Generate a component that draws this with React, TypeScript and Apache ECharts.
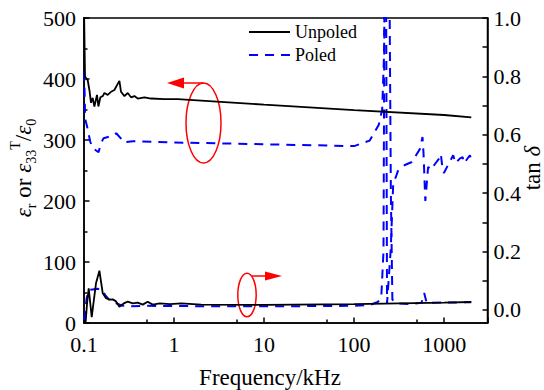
import React, { useEffect, useRef } from 'react';
import * as echarts from 'echarts';

// ---------- data (frequency in kHz) ----------
const unpoledEpsFreq = [0.1, 0.1026, 0.1099, 0.1148, 0.1196, 0.1249, 0.1305, 0.1394, 0.1445, 0.1521, 0.1614, 0.1686, 0.1834, 0.1995, 0.2177, 0.2326, 0.2473, 0.2577, 0.2811, 0.3059, 0.3329, 0.3631, 0.3952, 0.469, 0.555, 0.782, 1.1, 10, 100, 1000, 2000];
const unpoledEps = [520, 404, 398, 382, 361, 369, 355, 374, 355, 370, 372, 377, 374, 379, 382, 390, 397, 379, 372, 377, 370, 372, 368, 370, 368, 367, 367, 358, 349, 341, 337];

const poledEpsFreq = [0.1, 0.1015, 0.103, 0.109, 0.117, 0.124, 0.145, 0.155, 0.165, 0.21, 0.228, 0.255, 0.275, 0.35, 1, 10, 100, 149, 188, 205, 215, 221, 226, 232, 255, 272, 290, 306, 366, 438, 537, 575, 590, 600, 612, 618, 664, 706, 873, 919, 950, 993, 1259, 1339, 1500, 1601, 1668, 1931, 2015];
const poledEps = [412, 380, 335, 320, 298, 287, 280, 295, 303, 307, 311, 303, 296, 298, 296, 293, 290, 299, 325, 350, 440, 620, 620, 32, 120, 230, 239, 249, 259, 264, 285, 305, 278, 250, 215, 200, 256, 251, 269, 277, 258, 246, 275, 262, 270, 272, 262, 275, 267];

const unpoledTanFreq = [0.1, 0.1044, 0.108, 0.1128, 0.1218, 0.1359, 0.1483, 0.1614, 0.1756, 0.193, 0.2084, 0.225, 0.247, 0.276, 0.306, 0.348, 0.395, 0.449, 0.51, 0.58, 0.694, 0.896, 1.2, 2, 10, 100, 1000, 2000];
const unpoledTan = [-0.04, -0.04, 0.02, 0.074, -0.025, 0.091, 0.134, 0.057, 0.04, 0.035, 0.036, 0.03, 0.011, 0.022, 0.028, 0.022, 0.025, 0.018, 0.028, 0.018, 0.022, 0.02, 0.022, 0.018, 0.017, 0.02, 0.025, 0.027];

const poledTanFreq = [0.1, 0.103, 0.107, 0.113, 0.125, 0.14, 0.16, 0.172, 0.19, 0.22, 0.26, 0.32, 0.5, 1, 10, 100, 150, 183, 200, 212, 218, 246, 256, 266, 300, 400, 560, 600, 640, 1000, 2000];
const poledTan = [-0.035, -0.01, 0.04, 0.068, 0.07, 0.072, 0.07, 0.05, 0.035, 0.025, 0.015, 0.012, 0.014, 0.013, 0.012, 0.014, 0.017, 0.027, 0.04, 0.2, 1.2, 1.2, 0.4, 0.035, 0.022, 0.02, 0.024, 0.058, 0.024, 0.025, 0.026];

const seriesNames = ['Unpoled', 'Poled'];
const xMinorTicks = [0.5, 5, 50, 500];
const rightTickValues = [0, 0.1, 0.2, 0.3, 0.4, 0.5, 0.6, 0.7, 0.8, 0.9, 1.0];
const rightLabelValues = [0, 0.2, 0.4, 0.6, 0.8, 1.0];

const F = 'serif';
const zip = (xs: number[], ys: number[]) => xs.map((x, i) => [x, ys[i]]);

export default function App() {
  const ref = useRef<HTMLDivElement>(null);
  useEffect(() => {
    const chart = echarts.init(ref.current!, null, { renderer: 'svg' });
    const black = '#000000';
    const blue = '#0000ff';
    const red = '#ff0000';
    const tickStyle = { color: black, width: 1.5 };
    const labRich = { a: { fontFamily: F, fontSize: 22, color: black, fill: black } };
    const option: any = {
      animation: false,
      backgroundColor: '#ffffff',
      textStyle: { fontFamily: F },
      grid: { left: 84, right: 56.5, top: 18, bottom: 67, show: true, borderColor: black, borderWidth: 1.5, backgroundColor: 'transparent' },
      legend: {
        data: seriesNames,
        orient: 'vertical',
        left: 243,
        top: 18,
        itemWidth: 41,
        itemHeight: 14,
        itemGap: 5,
        itemStyle: { opacity: 0 },
        textStyle: { fontFamily: F, fontSize: 18, color: black },
      },
      xAxis: [
        {
          type: 'log', logBase: 10, min: 0.1, max: 3030, position: 'bottom',
          axisLine: { onZero: false, lineStyle: tickStyle },
          axisTick: { inside: true, length: 5.5, lineStyle: tickStyle },
          axisLabel: {
            fontFamily: F, fontSize: 22, color: black, margin: 10, rich: labRich,
            formatter: (v: number) => {
              const l = Math.log10(v);
              return Math.abs(l - Math.round(l)) < 1e-6 ? '{a|' + String(v) + '}' : '';
            },
          },
          splitLine: { show: false },
        },
        {
          type: 'log', logBase: 10, min: 0.1, max: 3030, position: 'bottom',
          axisLine: { show: false, onZero: false },
          axisTick: { show: true, inside: true, length: 3.5, lineStyle: tickStyle, customValues: xMinorTicks },
          axisLabel: { show: false },
          splitLine: { show: false },
        },
      ],
      yAxis: [
        {
          type: 'value', min: 0, max: 500, interval: 100, position: 'left',
          axisLine: { show: true, lineStyle: tickStyle },
          axisTick: { inside: true, length: 5.5, lineStyle: tickStyle },
          minorTick: { show: true, splitNumber: 2, length: 3.5, lineStyle: tickStyle },
          axisLabel: { fontFamily: F, fontSize: 22, color: black, margin: 8, rich: labRich, formatter: (v: number) => '{a|' + v + '}' },
          splitLine: { show: false },
        },
        {
          type: 'value', min: -0.045, max: 1.0, position: 'right',
          axisLine: { show: true, lineStyle: tickStyle },
          axisTick: { inside: true, length: 5, lineStyle: tickStyle, customValues: rightTickValues },
          axisLabel: { fontFamily: F, fontSize: 22, color: black, margin: 6, rich: labRich, customValues: rightLabelValues, formatter: (v: number) => '{a|' + v.toFixed(1) + '}' },
          splitLine: { show: false },
        },
      ],
      series: [
        {
          name: 'Poled', type: 'line', yAxisIndex: 0, symbol: 'none', data: zip(poledEpsFreq, poledEps),
          lineStyle: { color: blue, width: 2, type: [9, 7] }, itemStyle: { color: blue },
        },
        {
          name: 'Poled', type: 'line', yAxisIndex: 1, symbol: 'none', data: zip(poledTanFreq, poledTan),
          lineStyle: { color: blue, width: 2, type: [9, 7] }, itemStyle: { color: blue },
        },
        {
          name: 'Unpoled', type: 'line', yAxisIndex: 0, symbol: 'none', data: zip(unpoledEpsFreq, unpoledEps),
          lineStyle: { color: black, width: 1.8 }, itemStyle: { color: black },
        },
        {
          name: 'Unpoled', type: 'line', yAxisIndex: 1, symbol: 'none', data: zip(unpoledTanFreq, unpoledTan),
          lineStyle: { color: black, width: 1.8 }, itemStyle: { color: black },
        },
      ],
      graphic: [
        { type: 'ellipse', shape: { cx: 203.5, cy: 123, rx: 17.5, ry: 40 }, style: { fill: 'none', stroke: red, lineWidth: 1.5 } },
        { type: 'line', shape: { x1: 203.5, y1: 83, x2: 180, y2: 83 }, style: { stroke: red, lineWidth: 1.5 } },
        { type: 'polygon', shape: { points: [[167, 83], [184, 77.5], [184, 88.5]] }, style: { fill: red } },
        { type: 'ellipse', shape: { cx: 247, cy: 295, rx: 9.2, ry: 21.7 }, style: { fill: 'none', stroke: red, lineWidth: 1.5 } },
        { type: 'line', shape: { x1: 252, y1: 276, x2: 268, y2: 276 }, style: { stroke: red, lineWidth: 1.5 } },
        { type: 'polygon', shape: { points: [[282, 276], [265, 271.5], [265, 280.5]] }, style: { fill: red } },
        {
          type: 'text', x: 270, y: 377,
          style: {
            text: '{n|Frequency/kHz}', textAlign: 'center', textVerticalAlign: 'middle', fill: black,
            rich: { n: { fontFamily: F, fontSize: 23, fill: black } },
          },
        },
        {
          type: 'text', x: 532, y: 168, rotation: Math.PI / 2,
          style: {
            text: '{n|tan }{e|δ}', textAlign: 'center', textVerticalAlign: 'middle', fill: black,
            rich: {
              n: { fontFamily: F, fontSize: 23, lineHeight: 28, verticalAlign: 'middle', fill: black },
              e: { fontFamily: F, fontSize: 23, lineHeight: 28, verticalAlign: 'middle', fontStyle: 'italic', fill: black },
            },
          },
        },
        {
          type: 'text', x: 23, y: 168, rotation: Math.PI / 2,
          style: {
            text: '{e|ε}{s|r}{n| or }{e|ε}{s|33}{t|T}{n|/}{e|ε}{s|0}', textAlign: 'center', textVerticalAlign: 'middle', fill: black,
            rich: {
              e: { fontFamily: F, fontSize: 23, fontStyle: 'italic', lineHeight: 30, fill: black },
              n: { fontFamily: F, fontSize: 23, lineHeight: 30, fill: black },
              s: { fontFamily: F, fontSize: 14, lineHeight: 14, verticalAlign: 'bottom', fill: black },
              t: { fontFamily: F, fontSize: 14, lineHeight: 14, verticalAlign: 'top', fill: black },
            },
          },
        },
      ],
    };
    chart.setOption(option);
    return () => chart.dispose();
  }, []);
  return <div ref={ref} style={{ position: 'fixed', left: 0, top: 0, width: 544, height: 390 }} />;
}
